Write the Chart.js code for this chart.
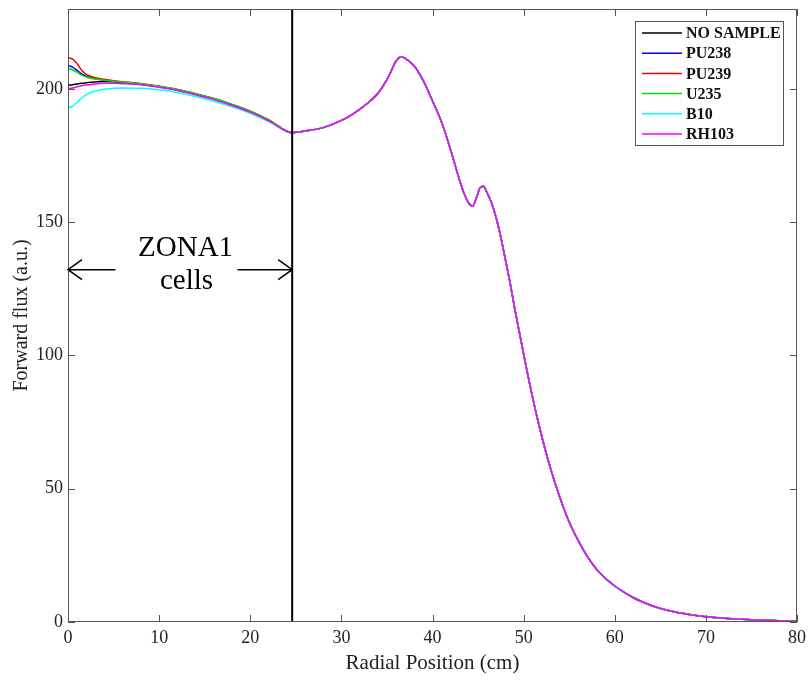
<!DOCTYPE html>
<html>
<head>
<meta charset="utf-8">
<script src="https://cdn.jsdelivr.net/npm/chart.js"></script>
<style>
  html, body { margin: 0; padding: 0; background: #fff; }
  #wrap { width: 811px; height: 682px; }
</style>
</head>
<body>
<div id="wrap"><canvas id="grafico" width="811" height="682"></canvas></div>
<script>
// radial positions inside ZONA1 (the curves differ here)
const radio_interior = [0, 0.5, 1, 1.5, 2, 3, 4, 5, 6, 8, 10, 12, 14, 16, 18, 20, 22, 24.6];
const flujo_no_sample = [201.4, 201.6, 201.9, 202.1, 202.3, 202.6, 202.8, 202.7, 202.4, 201.8, 200.8, 199.6, 198.0, 196.2, 194.0, 191.5, 188.3, 183.6];
const flujo_pu238 = [208.8, 208.2, 207.0, 205.7, 204.8, 203.8, 203.3, 202.9, 202.5, 201.9, 200.9, 199.7, 198.1, 196.3, 194.1, 191.6, 188.4, 183.6];
const flujo_pu239 = [211.7, 211.2, 209.5, 207.0, 205.5, 204.2, 203.6, 203.1, 202.7, 202.0, 201.0, 199.8, 198.2, 196.4, 194.2, 191.7, 188.5, 183.6];
const flujo_u235 = [207.7, 207.2, 206.2, 205.2, 204.5, 203.7, 203.3, 202.9, 202.6, 202.0, 201.0, 199.8, 198.2, 196.4, 194.2, 191.7, 188.5, 183.6];
const flujo_b10 = [193.0, 193.6, 195.0, 196.6, 197.8, 199.2, 199.9, 200.3, 200.4, 200.3, 199.7, 198.7, 197.2, 195.4, 193.3, 190.9, 187.8, 183.6];
const flujo_rh103 = [200.2, 200.4, 200.8, 201.2, 201.5, 201.9, 202.1, 202.1, 202.0, 201.6, 200.6, 199.4, 197.8, 196.0, 193.8, 191.3, 188.1, 183.6];

// outside ZONA1 all the samples give the same flux
const radio_exterior = [26, 28, 30, 31, 32, 33, 34, 35, 35.5, 36, 36.5, 37, 38, 39, 40, 41, 42, 43, 43.5, 44, 44.4, 44.8, 45.2, 45.6, 46, 46.5, 47, 47.5, 48, 48.5, 49, 50, 51, 52, 53, 54, 55, 56, 57, 58, 59, 60, 61, 62, 63, 64, 66, 68, 70, 72, 74, 76, 78, 80];
const flujo_exterior = [184.2, 185.5, 188.2, 190.0, 192.3, 195.0, 198.3, 203.5, 207.0, 210.5, 212.0, 211.5, 208.6, 203.0, 195.5, 187.5, 177.0, 165.5, 160.5, 157.0, 156.0, 159.0, 162.8, 163.5, 161.0, 157.0, 151.5, 144.3, 136.0, 127.5, 118.0, 100.5, 84.0, 69.5, 57.0, 46.5, 37.5, 30.5, 24.5, 19.8, 16.3, 13.5, 11.2, 9.2, 7.6, 6.2, 4.2, 2.9, 2.0, 1.4, 1.0, 0.7, 0.5, 0.3];

const muestras = ["NO SAMPLE", "PU238", "PU239", "U235", "B10", "RH103"];
const colores = ["#000000", "#0000ff", "#ff0000", "#00dd00", "#00ffff", "#ff00ff"];
const flujos_interior = [flujo_no_sample, flujo_pu238, flujo_pu239, flujo_u235, flujo_b10, flujo_rh103];

const limite_zona1 = 24.6;
const ticks_x = [0, 10, 20, 30, 40, 50, 60, 70, 80];
const ticks_y = [0, 50, 100, 150, 200];

const fuente = "Liberation Serif";
const gris_eje = "#555555";

function armar_serie(interior) {
  const puntos = radio_interior.map((r, i) => ({ x: r, y: interior[i] }));
  radio_exterior.forEach((r, i) => puntos.push({ x: r, y: flujo_exterior[i] }));
  return puntos;
}

const datasets = muestras.map((nombre, i) => ({
  label: nombre,
  data: armar_serie(flujos_interior[i]),
  borderColor: colores[i],
  borderWidth: 1.5,
  pointRadius: 0,
  fill: false,
  cubicInterpolationMode: "monotone",
  order: muestras.length - i,
}));

datasets.push({
  label: "",
  data: [{ x: limite_zona1, y: 0 }, { x: limite_zona1, y: 230 }],
  borderColor: "#000000",
  borderWidth: 2,
  pointRadius: 0,
  order: -1,
});

function flecha(ctx, x1, x2, y) {
  const punta = x2 > x1 ? 1 : -1;
  ctx.beginPath();
  ctx.moveTo(x1, y);
  ctx.lineTo(x2, y);
  ctx.moveTo(x2 - punta * 14, y - 10);
  ctx.lineTo(x2, y);
  ctx.lineTo(x2 - punta * 14, y + 10);
  ctx.stroke();
}

const decoracion = {
  id: "decoracion",
  afterDatasetsDraw(chart) {
    const ctx = chart.ctx;
    const a = chart.chartArea;
    const sx = chart.scales.x;
    const sy = chart.scales.y;
    ctx.save();

    // box and inward ticks like the original figure
    ctx.strokeStyle = gris_eje;
    ctx.lineWidth = 1;
    ctx.strokeRect(a.left + 0.5, a.top + 0.5, a.right - a.left - 1, a.bottom - a.top - 1);
    ctx.beginPath();
    ticks_x.forEach((v) => {
      const px = Math.round(sx.getPixelForValue(v)) + 0.5;
      ctx.moveTo(px, a.bottom); ctx.lineTo(px, a.bottom - 7);
      ctx.moveTo(px, a.top); ctx.lineTo(px, a.top + 7);
    });
    ticks_y.forEach((v) => {
      const py = Math.round(sy.getPixelForValue(v)) + 0.5;
      ctx.moveTo(a.left, py); ctx.lineTo(a.left + 7, py);
      ctx.moveTo(a.right, py); ctx.lineTo(a.right - 7, py);
    });
    ctx.stroke();

    // ZONA1 annotation
    ctx.strokeStyle = "#000000";
    ctx.lineWidth = 1.5;
    const y_flecha = sy.getPixelForValue(132.2);
    flecha(ctx, sx.getPixelForValue(5.2), sx.getPixelForValue(0), y_flecha);
    flecha(ctx, sx.getPixelForValue(18.6), sx.getPixelForValue(limite_zona1), y_flecha);
    ctx.fillStyle = "#000000";
    ctx.font = "29px '" + fuente + "'";
    ctx.textAlign = "center";
    ctx.textBaseline = "alphabetic";
    ctx.fillText("ZONA1", sx.getPixelForValue(12.9), sy.getPixelForValue(137.5));
    ctx.fillText("cells", sx.getPixelForValue(13.0), sy.getPixelForValue(125));

    // legend inside the plot, top right
    const caja = { x: 635.5, y: 21.5, w: 148, h: 124 };
    ctx.fillStyle = "#ffffff";
    ctx.fillRect(caja.x, caja.y, caja.w, caja.h);
    ctx.strokeStyle = gris_eje;
    ctx.lineWidth = 1;
    ctx.strokeRect(caja.x, caja.y, caja.w, caja.h);
    ctx.font = "bold 16px '" + fuente + "'";
    ctx.textAlign = "left";
    ctx.textBaseline = "middle";
    chart.data.datasets.filter((d) => d.label).forEach((d, i) => {
      const y = 33 + i * 20.2;
      ctx.strokeStyle = d.borderColor;
      ctx.lineWidth = 1.5;
      ctx.beginPath();
      ctx.moveTo(642, y);
      ctx.lineTo(682, y);
      ctx.stroke();
      ctx.fillStyle = "#111111";
      ctx.fillText(d.label, 686, y + 1);
    });
    ctx.restore();
  },
};

const config = {
  type: "line",
  data: { datasets: datasets },
  options: {
    responsive: false,
    animation: false,
    layout: { autoPadding: false, padding: { top: 9, right: 14, left: 0, bottom: 0 } },
    plugins: {
      legend: { display: false },
      tooltip: { enabled: false },
    },
    scales: {
      x: {
        type: "linear",
        min: 0,
        max: 80,
        afterBuildTicks: (s) => { s.ticks = ticks_x.map((v) => ({ value: v })); },
        afterFit: (s) => { s.height = 60; s.paddingLeft = 0; s.paddingRight = 0; },
        ticks: { color: "#222222", padding: 5, font: { family: fuente, size: 18 } },
        grid: { display: false, drawTicks: false, tickLength: 0 },
        border: { display: false },
        title: {
          display: true,
          text: "Radial Position (cm)",
          color: "#222222",
          font: { family: fuente, size: 21 },
          padding: { top: 0, bottom: 6 },
        },
      },
      y: {
        type: "linear",
        min: 0,
        max: 230,
        afterBuildTicks: (s) => { s.ticks = ticks_y.map((v) => ({ value: v })); },
        afterFit: (s) => { s.width = 68; s.paddingTop = 0; s.paddingBottom = 0; },
        ticks: { color: "#222222", padding: 5, font: { family: fuente, size: 18 } },
        grid: { display: false, drawTicks: false, tickLength: 0 },
        border: { display: false },
        title: {
          display: true,
          text: "Forward flux (a.u.)",
          color: "#222222",
          font: { family: fuente, size: 20 },
          padding: { top: 10, bottom: 0 },
        },
      },
    },
  },
  plugins: [decoracion],
};

new Chart(document.getElementById("grafico"), config);
</script>
</body>
</html>
